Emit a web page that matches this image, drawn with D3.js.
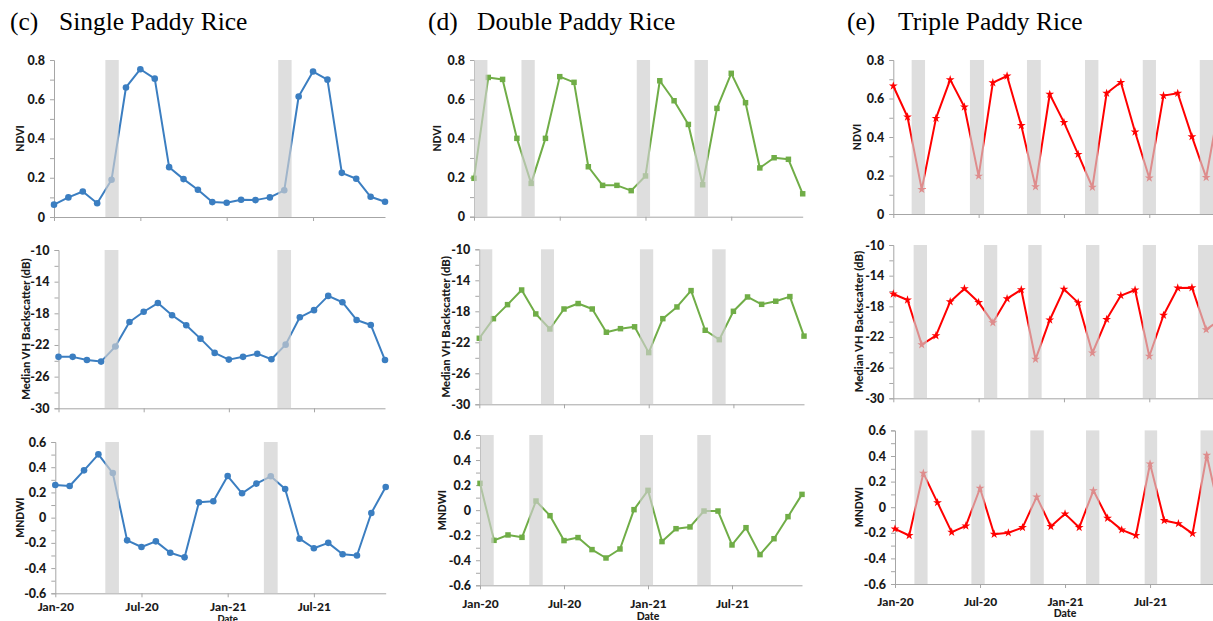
<!DOCTYPE html>
<html><head><meta charset="utf-8">
<script src="https://cdn.jsdelivr.net/npm/d3@7"></script>
<style>body{margin:0;background:#fff;} svg{display:block;}</style>
</head><body>
<svg id="chart" width="1213" height="621"></svg>
<script>
// ---------- DATA ----------
const months = ["Jan-20","Feb-20","Mar-20","Apr-20","May-20","Jun-20","Jul-20","Aug-20","Sep-20","Oct-20","Nov-20","Dec-20",
                "Jan-21","Feb-21","Mar-21","Apr-21","May-21","Jun-21","Jul-21","Aug-21","Sep-21","Oct-21","Nov-21","Dec-21"];
const xTickLabels = ["Jan-20","Jul-20","Jan-21","Jul-21"];
const panelTitles = ["Single Paddy Rice","Double Paddy Rice","Triple Paddy Rice"];
const panelLetters = ["(c)","(d)","(e)"];
const yTitles = ["NDVI","Median VH Backscatter (dB)","MNDWI"];

const singleNDVI  = [0.063,0.10,0.13,0.07,0.19,0.66,0.753,0.705,0.254,0.193,0.139,0.076,0.073,0.088,0.086,0.10,0.136,0.614,0.741,0.70,0.225,0.195,0.103,0.078];
const singleVH    = [-23.5,-23.5,-23.9,-24.1,-22.2,-19.1,-17.8,-16.7,-18.25,-19.5,-21.2,-23.0,-23.85,-23.5,-23.1,-23.8,-21.96,-18.5,-17.6,-15.8,-16.6,-18.84,-19.47,-23.9];
const singleMNDWI = [0.259,0.251,0.375,0.502,0.354,-0.18,-0.233,-0.188,-0.278,-0.315,0.122,0.13,0.33,0.193,0.27,0.328,0.227,-0.167,-0.243,-0.2,-0.29,-0.3,0.037,0.243];

const doubleNDVI  = [0.196,0.711,0.701,0.40,0.17,0.40,0.715,0.686,0.255,0.16,0.16,0.133,0.208,0.694,0.592,0.471,0.163,0.553,0.732,0.582,0.249,0.301,0.293,0.117];
const doubleVH    = [-21.48,-18.95,-17.14,-15.25,-18.34,-20.28,-17.7,-17.0,-17.7,-20.7,-20.24,-20.0,-23.33,-18.95,-17.44,-15.33,-20.45,-21.66,-18.0,-16.15,-17.1,-16.7,-16.1,-21.2];
const doubleMNDWI = [0.214,-0.241,-0.198,-0.217,0.073,-0.044,-0.243,-0.219,-0.315,-0.382,-0.31,0.004,0.158,-0.251,-0.148,-0.134,-0.007,-0.007,-0.278,-0.14,-0.355,-0.228,-0.052,0.126];

const tripleNDVI  = [0.665,0.504,0.128,0.497,0.698,0.556,0.197,0.682,0.717,0.46,0.142,0.622,0.476,0.31,0.139,0.627,0.684,0.426,0.187,0.615,0.627,0.402,0.19,0.6];
const tripleVH    = [-16.39,-17.17,-23.0,-21.83,-17.39,-15.7,-17.48,-20.13,-17.0,-15.83,-24.91,-19.78,-15.78,-17.52,-24.09,-19.7,-16.6,-15.87,-24.52,-19.17,-15.6,-15.57,-21.04,-19.7];
const tripleMNDWI = [-0.169,-0.221,0.266,0.036,-0.195,-0.146,0.148,-0.211,-0.2,-0.159,0.081,-0.151,-0.052,-0.159,0.13,-0.086,-0.177,-0.221,0.339,-0.104,-0.128,-0.206,0.406,-0.09];

// shaded periods (start,end in month index)
const singleNDVIPeriods  = [[3.57,4.50],[15.58,16.51]];
const singleVHPeriods    = [[3.25,4.22],[15.42,16.38]];
const singleMNDWIPeriods = [[3.48,4.43],[14.52,15.48]];
const doubleNDVIPeriods  = [[0,0.94],[3.32,4.25],[11.39,12.32],[15.43,16.37]];
const doubleVHPeriods    = [[0,0.92],[4.37,5.29],[11.38,12.32],[16.5,17.45]];
const doubleMNDWIPeriods = [[0,0.98],[3.52,4.48],[11.43,12.36],[15.52,16.48]];
const tripleNDVIPeriods  = [[1.29,2.23],[5.39,6.38],[9.4,10.37],[13.48,14.42],[17.54,18.47],[21.55,22.48]];
const tripleVHPeriods    = [[1.43,2.37],[6.38,7.31],[9.49,10.43],[13.55,14.49],[17.54,18.47],[21.43,22.5]];
const tripleMNDWIPeriods = [[1.37,2.3],[5.39,6.33],[9.55,10.5],[13.48,14.42],[17.62,18.5],[21.56,22.55]];

// ---------- LAYOUT ----------
const svg = d3.select("#chart");
const FONT = "Lato, 'Open Sans', sans-serif";
const colors = ["#3b7ec1","#70ad47","#ff0000"];
const symbols = [d3.symbolCircle, d3.symbolSquare, d3.symbolStar];
const symSizes = [34, 30, 24];

const yDefs = [
  {domain:[0,0.8], minor:0.1, major:0.2},
  {domain:[-30,-10], minor:2, major:4},
  {domain:[-0.6,0.6], minor:0.1, major:0.2}
];

const cols = [
  {titleX:10, nameX:59, data:[singleNDVI,singleVH,singleMNDWI], periods:[singleNDVIPeriods,singleVHPeriods,singleMNDWIPeriods],
   boxes:[{x0:54,x1:385,t:60,b:217,lx:20},{x0:58.5,x1:385,t:250,b:408.3,lx:25},{x0:55.3,x1:385.7,t:442,b:593.3,lx:20}], dateY:621.5, dateSize:9.5, lblPad:5},
  {titleX:428, nameX:477, data:[doubleNDVI,doubleVH,doubleMNDWI], periods:[doubleNDVIPeriods,doubleVHPeriods,doubleMNDWIPeriods],
   boxes:[{x0:474,x1:802.7,t:60,b:216.7,lx:437},{x0:479.3,x1:804,t:249.3,b:404.3,lx:445},{x0:480,x1:802,t:435,b:585.3,lx:442}], dateY:619.5, dateSize:10.5, lblPad:10},
  {titleX:847, nameX:898, data:[tripleNDVI,tripleVH,tripleMNDWI], periods:[tripleNDVIPeriods,tripleVHPeriods,tripleMNDWIPeriods],
   boxes:[{x0:893.3,x1:1220.4,t:60,b:214,lx:857},{x0:893.3,x1:1220.4,t:245,b:398.3,lx:858.5},{x0:895,x1:1220.9,t:430.4,b:584,lx:858.5}], dateY:616.5, dateSize:10.5, lblPad:9}
];

const fmt = v => String(+v.toFixed(1));

cols.forEach((col, ci) => {
  // title
  svg.append("text").attr("x", col.titleX).attr("y", 30)
    .attr("font-family","'Liberation Serif','Times New Roman',serif").attr("font-size",25.5).attr("fill","#000")
    .text(panelLetters[ci]);
  svg.append("text").attr("x", col.nameX).attr("y", 30)
    .attr("font-family","'Liberation Serif','Times New Roman',serif").attr("font-size",25.5).attr("fill","#000")
    .text(panelTitles[ci]);

  col.boxes.forEach((bx, ri) => {
    const yd = yDefs[ri];
    const x = d3.scaleLinear().domain([0, months.length-1]).range([bx.x0, bx.x1]);
    const y = d3.scaleLinear().domain(yd.domain).range([bx.b, bx.t]);
    const g = svg.append("g");
    const values = col.data[ri];

    // y axis
    const nT = Math.round((yd.domain[1]-yd.domain[0])/yd.minor);
    const tv = d3.range(nT+1).map(k => +(yd.domain[0] + k*yd.minor).toFixed(4));
    const yAxis = d3.axisLeft(y).tickValues(tv).tickSize(4).tickPadding(5)
      .tickFormat(v => {
        const r = (v - yd.domain[0]) / yd.major;
        return Math.abs(r - Math.round(r)) < 1e-6 ? fmt(v) : "";
      });
    const ya = g.append("g").attr("transform", `translate(${bx.x0},0)`).call(yAxis);
    ya.select(".domain").attr("stroke","#a6a6a6").attr("stroke-width",1);
    ya.selectAll(".tick line").attr("stroke","#a6a6a6");
    ya.selectAll(".tick text").attr("font-family",FONT).attr("font-weight",900).attr("font-size",12.5).attr("fill","#1a1a1a");

    // x axis
    const xAxis = d3.axisBottom(x).tickValues([0,6,12,18]).tickSize(4).tickSizeOuter(0).tickPadding(col.lblPad)
      .tickFormat((d,i) => ri === 2 ? xTickLabels[i] : "");
    const xa = g.append("g").attr("transform", `translate(0,${bx.b})`).call(xAxis);
    xa.select(".domain").attr("stroke","#a6a6a6").attr("stroke-width",1);
    xa.selectAll(".tick line").attr("stroke","#a6a6a6");
    xa.selectAll(".tick text").attr("font-family",FONT).attr("font-weight",900).attr("font-size",12).attr("fill","#1a1a1a");

    // y title
    g.append("text")
      .attr("transform", `translate(${bx.lx},${(bx.t+bx.b)/2}) rotate(-90)`)
      .attr("text-anchor","middle").attr("dominant-baseline","central")
      .attr("font-family",FONT).attr("font-weight",900)
      .attr("font-size", ri === 1 ? 11.3 : 10.5).attr("fill","#1a1a1a")
      .text(yTitles[ri]);

    // line
    const line = d3.line().x((d,i) => x(i)).y(d => y(d));
    g.append("path").datum(values).attr("d", line)
      .attr("fill","none").attr("stroke", colors[ci]).attr("stroke-width",2).attr("stroke-linejoin","round");
    g.selectAll("path.m").data(values).join("path").attr("class","m")
      .attr("transform",(d,i) => `translate(${x(i)},${y(d)})`)
      .attr("d", d3.symbol().type(symbols[ci]).size(symSizes[ci]))
      .attr("fill", colors[ci]);

    // shaded periods (overlay)
    g.selectAll("rect.p").data(col.periods[ri]).join("rect").attr("class","p")
      .attr("x", d => x(d[0])).attr("width", d => x(d[1]) - x(d[0]))
      .attr("y", y(yd.domain[1])).attr("height", y(yd.domain[0]) - y(yd.domain[1]))
      .attr("fill","#cfcfcf").attr("opacity",0.68);

    if (ri === 2) {
      g.append("text").attr("x", x(12)).attr("y", col.dateY).attr("text-anchor","middle")
        .attr("font-family",FONT).attr("font-weight",900).attr("font-size",col.dateSize).attr("fill","#1a1a1a")
        .text("Date");
    }
  });
});
</script>
</body></html>
